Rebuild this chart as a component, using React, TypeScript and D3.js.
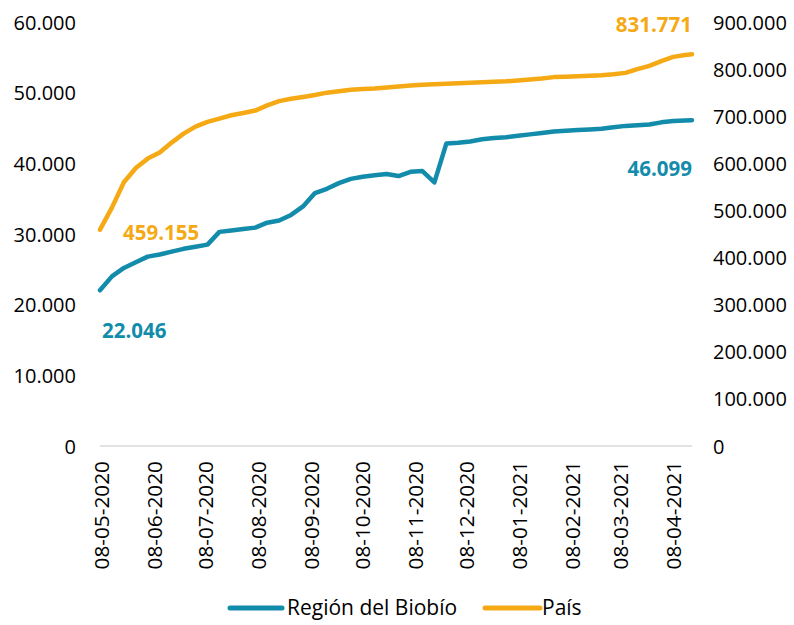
import * as d3 from "d3";

const dates = [
  "2020-05-08", "2020-05-15", "2020-05-22", "2020-05-29", "2020-06-05", "2020-06-12",
  "2020-06-19", "2020-06-26", "2020-07-03", "2020-07-10", "2020-07-17", "2020-07-24",
  "2020-07-31", "2020-08-07", "2020-08-14", "2020-08-21", "2020-08-28", "2020-09-04",
  "2020-09-11", "2020-09-18", "2020-09-25", "2020-10-02", "2020-10-09", "2020-10-16",
  "2020-10-23", "2020-10-30", "2020-11-06", "2020-11-13", "2020-11-20", "2020-11-27",
  "2020-12-04", "2020-12-11", "2020-12-18", "2020-12-25", "2021-01-01", "2021-01-08",
  "2021-01-15", "2021-01-22", "2021-01-29", "2021-02-05", "2021-02-12", "2021-02-19",
  "2021-02-26", "2021-03-05", "2021-03-12", "2021-03-19", "2021-03-26", "2021-04-02",
  "2021-04-09", "2021-04-16", "2021-04-20",
];

// Región del Biobío (left axis)
const biobio = [
  22046, 24000, 25200, 26000, 26800, 27100, 27500, 27900, 28200, 28500, 30300, 30500,
  30700, 30900, 31600, 31900, 32700, 33900, 35800, 36400, 37200, 37800, 38100, 38300,
  38500, 38200, 38800, 38900, 37300, 42800, 42900, 43100, 43400, 43600, 43700, 43900,
  44100, 44300, 44500, 44600, 44700, 44800, 44900, 45100, 45300, 45400, 45500, 45800,
  46000, 46050, 46099,
];

// País (right axis)
const pais = [
  459155, 506000, 560000, 590000, 610000, 623000, 644000, 663000, 678000, 688000, 695000, 702000,
  707000, 712000, 723000, 732000, 737000, 741000, 745000, 750000, 753000, 756000, 758000, 759000,
  761000, 763000, 765000, 767000, 768000, 769000, 770000, 771000, 772000, 773000, 774000, 776000,
  778000, 780000, 783000, 784000, 785000, 786000, 787000, 789000, 792000, 800000, 807000, 817000,
  826000, 830000, 831771,
];

const leftTicks = [0, 10000, 20000, 30000, 40000, 50000, 60000];
const rightTicks = [0, 100000, 200000, 300000, 400000, 500000, 600000, 700000, 800000, 900000];
const xTickDates = [
  "2020-05-08", "2020-06-08", "2020-07-08", "2020-08-08", "2020-09-08", "2020-10-08",
  "2020-11-08", "2020-12-08", "2021-01-08", "2021-02-08", "2021-03-08", "2021-04-08",
];

const TEAL = "#128CAA";
const ORANGE = "#F5A914";
const FONT = "'Open Sans', sans-serif";

const parse = d3.utcParse("%Y-%m-%d");
const fmt = d3
  .formatLocale({ decimal: ",", thousands: ".", grouping: [3], currency: ["$", ""] })
  .format(",.0f");
const fmtDate = d3.utcFormat("%d-%m-%Y");

const App = () => {
  const left = 100;
  const right = 692;
  const top = 22;
  const bottom = 446;

  const x = d3
    .scaleUtc()
    .domain([parse(dates[0])!, parse(dates[dates.length - 1])!])
    .range([left, right]);
  const yL = d3.scaleLinear().domain([0, 60000]).range([bottom, top]);
  const yR = d3.scaleLinear().domain([0, 900000]).range([bottom, top]);

  const lineL = d3
    .line<number>()
    .x((_, i) => x(parse(dates[i])!))
    .y((d) => yL(d));
  const lineR = d3
    .line<number>()
    .x((_, i) => x(parse(dates[i])!))
    .y((d) => yR(d));

  const last = dates.length - 1;

  return (
    <svg
      width={794}
      height={625}
      style={{ position: "absolute", left: 0, top: 0, background: "#fff" }}
      fontFamily={FONT}
    >
      {/* axis line */}
      <line x1={left} x2={right} y1={bottom} y2={bottom} stroke="#D9D9D9" strokeWidth={1.5} />

      {/* left ticks */}
      {leftTicks.map((t) => (
        <text key={t} x={76} y={yL(t)} textAnchor="end" dominantBaseline="central" fontSize={20} fill="#000">
          {fmt(t)}
        </text>
      ))}

      {/* right ticks */}
      {rightTicks.map((t) => (
        <text key={t} x={713} y={yR(t)} textAnchor="start" dominantBaseline="central" fontSize={20} fill="#000">
          {fmt(t)}
        </text>
      ))}

      {/* x tick labels */}
      {xTickDates.map((d) => {
        const xp = x(parse(d)!);
        return (
          <text
            key={d}
            transform={`translate(${xp + 1},${461}) rotate(-90)`}
            textAnchor="end"
            dominantBaseline="central"
            fontSize={20.8}
            fill="#000"
          >
            {fmtDate(parse(d)!)}
          </text>
        );
      })}

      {/* lines */}
      <path d={lineR(pais) ?? ""} fill="none" stroke={ORANGE} strokeWidth={4.5} strokeLinejoin="round" strokeLinecap="round" />
      <path d={lineL(biobio) ?? ""} fill="none" stroke={TEAL} strokeWidth={4.5} strokeLinejoin="round" strokeLinecap="round" />

      {/* data labels */}
      <text x={right} y={24} textAnchor="end" dominantBaseline="central" fontSize={20.5} fontWeight="bold" fill={ORANGE}>
        {fmt(pais[last])}
      </text>
      <text x={123} y={232} textAnchor="start" dominantBaseline="central" fontSize={20.5} fontWeight="bold" fill={ORANGE}>
        {fmt(pais[0])}
      </text>
      <text x={right} y={168} textAnchor="end" dominantBaseline="central" fontSize={20.5} fontWeight="bold" fill={TEAL}>
        {fmt(biobio[last])}
      </text>
      <text x={102} y={330} textAnchor="start" dominantBaseline="central" fontSize={20.5} fontWeight="bold" fill={TEAL}>
        {fmt(biobio[0])}
      </text>

      {/* legend */}
      <line x1={230} x2={282} y1={608} y2={608} stroke={TEAL} strokeWidth={5} strokeLinecap="round" />
      <text x={287} y={607} dominantBaseline="central" fontSize={21} fill="#000">
        Región del Biobío
      </text>
      <line x1={485} x2={540} y1={608} y2={608} stroke={ORANGE} strokeWidth={5} strokeLinecap="round" />
      <text x={542} y={607} dominantBaseline="central" fontSize={21} fill="#000">
        País
      </text>
    </svg>
  );
};

export default App;
